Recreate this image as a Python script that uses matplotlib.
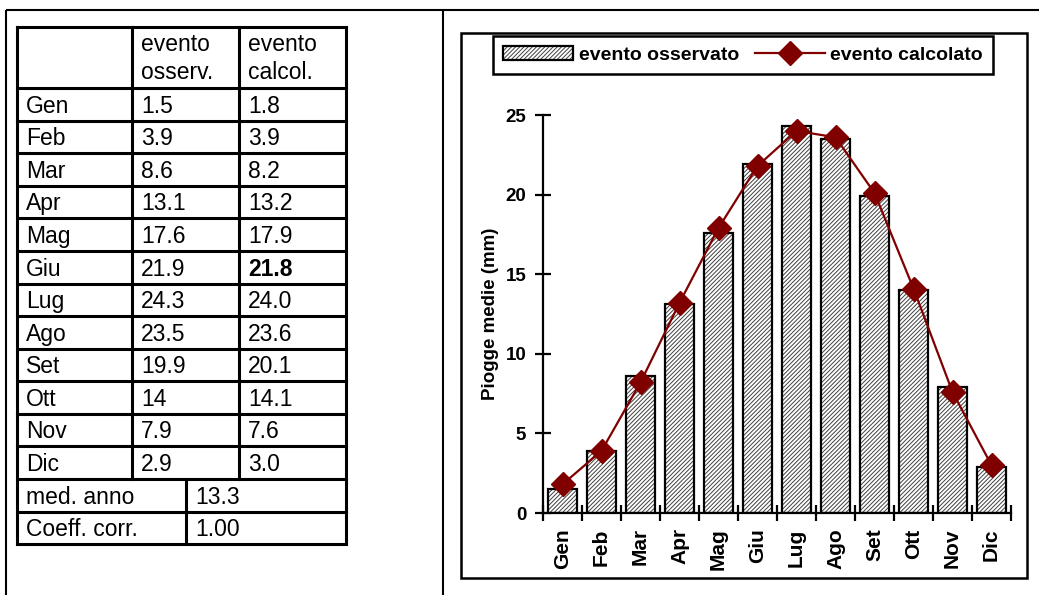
import matplotlib.pyplot as plt
from matplotlib.patches import Rectangle
from matplotlib.legend_handler import HandlerTuple
import numpy as np

plt.rcParams['font.family'] = ['Liberation Sans', 'DejaVu Sans']
plt.rcParams['hatch.linewidth'] = 0.7

mesi = ['Gen', 'Feb', 'Mar', 'Apr', 'Mag', 'Giu', 'Lug', 'Ago', 'Set', 'Ott', 'Nov', 'Dic']
osservato = [1.5, 3.9, 8.6, 13.1, 17.6, 21.9, 24.3, 23.5, 19.9, 14, 7.9, 2.9]
calcolato = [1.8, 3.9, 8.2, 13.2, 17.9, 21.8, 24.0, 23.6, 20.1, 14.1, 7.6, 3.0]
oss_txt = ['1.5', '3.9', '8.6', '13.1', '17.6', '21.9', '24.3', '23.5', '19.9', '14', '7.9', '2.9']
calc_txt = ['1.8', '3.9', '8.2', '13.2', '17.9', '21.8', '24.0', '23.6', '20.1', '14.1', '7.6', '3.0']
media_anno = '13.3'
coeff_corr = '1.00'

W, H = 1039, 595
fig = plt.figure(figsize=(W / 100, H / 100), dpi=100)

# background layer in pixel coords (frames + table)
bg = fig.add_axes([0, 0, 1, 1])
bg.set_xlim(0, W)
bg.set_ylim(H, 0)
bg.axis('off')

lk = dict(color='black', lw=1.5, solid_capstyle='butt')
bg.plot([6, W], [10, 10], **lk)
bg.plot([6, 6], [10, H], **lk)
bg.plot([443, 443], [10, H], **lk)
bg.add_patch(Rectangle((461, 33), 566, 545, fill=False, ec='black', lw=1.8))

# table
tx = [17, 132, 239, 346]
ty0, ty1 = 27, 88
rh = (479 - 88) / 12
tl = dict(color='black', lw=2.2, solid_capstyle='projecting')
fs = 16.5
rows_y = [ty1 + i * rh for i in range(13)]
bottom = rows_y[-1] + 2 * rh
for y in [ty0] + rows_y + [rows_y[-1] + rh, bottom]:
    bg.plot([tx[0], tx[3]], [y, y], **tl)
bg.plot([tx[0], tx[0]], [ty0, bottom], **tl)
bg.plot([tx[3], tx[3]], [ty0, bottom], **tl)
bg.plot([tx[1], tx[1]], [ty0, rows_y[-1]], **tl)
bg.plot([tx[2], tx[2]], [ty0, rows_y[-1]], **tl)
bg.plot([186, 186], [rows_y[-1], bottom], **tl)

bg.text(tx[1] + 9, 51, 'evento', fontsize=fs, va='baseline')
bg.text(tx[1] + 9, 79, 'osserv.', fontsize=fs, va='baseline')
bg.text(tx[2] + 9, 51, 'evento', fontsize=fs, va='baseline')
bg.text(tx[2] + 9, 79, 'calcol.', fontsize=fs, va='baseline')
for i, m in enumerate(mesi):
    yb = rows_y[i + 1] - 8
    bg.text(tx[0] + 9, yb, m, fontsize=fs, va='baseline')
    bg.text(tx[1] + 9, yb, oss_txt[i], fontsize=fs, va='baseline')
    bg.text(tx[2] + 9, yb, calc_txt[i], fontsize=fs, va='baseline',
            fontweight='bold' if m == 'Giu' else 'normal')
yb = rows_y[-1] + rh - 8
bg.text(tx[0] + 9, yb, 'med. anno', fontsize=fs, va='baseline')
bg.text(195, yb, media_anno, fontsize=fs, va='baseline')
bg.text(tx[0] + 9, bottom - 8, 'Coeff. corr.', fontsize=fs, va='baseline')
bg.text(195, bottom - 8, coeff_corr, fontsize=fs, va='baseline')

# chart
ax = fig.add_axes([543 / W, 1 - 513 / H, (1011 - 543) / W, (513 - 115) / H])
ax.set_facecolor('none')
x = np.arange(len(mesi))
hb = ax.bar(x, osservato, width=0.72, color='white', edgecolor='#404040',
            hatch='////////', linewidth=0, zorder=2)
ob = ax.bar(x, osservato, width=0.72, color='none', edgecolor='black',
            linewidth=1.6, zorder=3)
ln, = ax.plot(x, calcolato, color='#800000', lw=1.6, marker='D',
              markersize=12, zorder=4)

ax.set_xlim(-0.5, len(mesi) - 0.5)
ax.set_ylim(0, 25)
ax.set_yticks([0, 5, 10, 15, 20, 25])
ax.set_xticks(x)
ax.set_xticklabels(mesi, rotation=90, fontweight='bold', fontsize=15)
ax.set_xticks(np.arange(-0.5, len(mesi)), minor=True)
ax.tick_params(axis='x', which='major', length=0, pad=11)
ax.tick_params(axis='x', which='minor', direction='inout', length=12, width=1.6)
ax.tick_params(axis='y', direction='inout', length=12, width=1.6, labelsize=13.5, pad=6)
for lab in ax.get_yticklabels():
    lab.set_fontweight('bold')
for s in ['top', 'right']:
    ax.spines[s].set_visible(False)
for s in ['left', 'bottom']:
    ax.spines[s].set_linewidth(1.6)
ax.set_ylabel('Piogge medie (mm)', fontweight='bold', fontsize=13.5, labelpad=5)

leg = fig.legend([(hb[0], ob[0]), ln], ['evento osservato', 'evento calcolato'],
                 handler_map={tuple: HandlerTuple(ndivide=1)},
                 loc='center', bbox_to_anchor=(743 / W, 1 - 55 / H), ncol=2,
                 prop={'weight': 'bold', 'size': 14}, handlelength=3.6,
                 handletextpad=0.3, columnspacing=0.8, fancybox=False,
                 edgecolor='black', framealpha=1, borderpad=0.5)
leg.get_frame().set_linewidth(1.8)

fig.savefig('out.png', dpi=100)
